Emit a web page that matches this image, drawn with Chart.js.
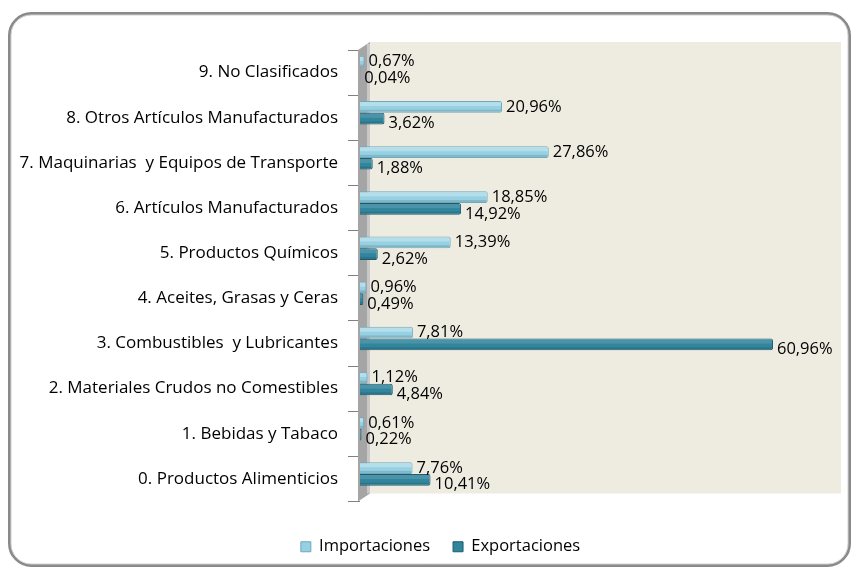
<!DOCTYPE html>
<html>
<head>
<meta charset="utf-8">
<script src="https://cdn.jsdelivr.net/npm/chart.js@4"></script>
<style>
  html, body { margin: 0; padding: 0; background: #fff; }
</style>
</head>
<body>
<canvas id="chart" width="855" height="568"></canvas>
<script>
// categorías de arriba hacia abajo
const categorias = [
    "9. No Clasificados",
    "8. Otros Artículos Manufacturados",
    "7. Maquinarias  y Equipos de Transporte",
    "6. Artículos Manufacturados",
    "5. Productos Químicos",
    "4. Aceites, Grasas y Ceras",
    "3. Combustibles  y Lubricantes",
    "2. Materiales Crudos no Comestibles",
    "1. Bebidas y Tabaco",
    "0. Productos Alimenticios"
];
const importaciones = [0.67, 20.96, 27.86, 18.85, 13.39, 0.96, 7.81, 1.12, 0.61, 7.76];
const exportaciones = [0.04, 3.62, 1.88, 14.92, 2.62, 0.49, 60.96, 4.84, 0.22, 10.41];

const FONT = "'Open Sans', sans-serif";
const FONDO_DY = 8;   // desplazamiento de la pared del fondo (efecto 3D)
const BARRA_DY = -5;

// marco redondeado, pared gris y etiquetas de valores
const decoraciones = {
    id: "decoraciones",
    afterLayout(chart) {
        // la leyenda va algo a la derecha del centro
        if (chart.legend) {
            chart.legend.left += 20;
            chart.legend.right += 20;
        }
    },
    beforeDraw(chart) {
        const { ctx, chartArea: a } = chart;
        ctx.save();
        // pared del fondo
        ctx.fillStyle = "#eeece1";
        ctx.fillRect(a.left + 10, a.top - FONDO_DY, a.right - a.left - 10, a.bottom - a.top);
        // marco
        const r = 22;
        const x0 = 9.5, y0 = 13.5, x1 = 849.5, y1 = 565.5;
        ctx.lineWidth = 3;
        ctx.strokeStyle = "#8a8a8a";
        ctx.beginPath();
        ctx.roundRect(x0, y0, x1 - x0, y1 - y0, r);
        ctx.stroke();
        ctx.lineWidth = 1;
        ctx.strokeStyle = "#d0d0d0";
        ctx.beginPath();
        ctx.roundRect(x0 + 1.5, y0 + 1.5, x1 - x0 - 3, y1 - y0 - 3, r - 2);
        ctx.stroke();
        ctx.restore();
    },
    beforeDatasetsDraw(chart) {
        const { ctx, chartArea: a } = chart;
        // pared izquierda
        ctx.save();
        ctx.fillStyle = "#a5a5a5";
        ctx.beginPath();
        ctx.moveTo(a.left - 2, a.top);
        ctx.lineTo(a.left + 10, a.top - FONDO_DY);
        ctx.lineTo(a.left + 10, a.bottom - FONDO_DY);
        ctx.lineTo(a.left - 2, a.bottom);
        ctx.closePath();
        ctx.fill();
        ctx.fillStyle = "#c8c8c8";
        ctx.fillRect(a.left + 7, a.top - FONDO_DY + 2, 3, a.bottom - a.top - 2);
        ctx.restore();
        ctx.save();
        ctx.translate(0, BARRA_DY);
    },
    afterDatasetsDraw(chart) {
        const { ctx } = chart;
        // brillo superior de cada barra
        chart.data.datasets.forEach((ds, i) => {
            chart.getDatasetMeta(i).data.forEach((bar) => {
                const h = bar.height;
                const w = bar.x - bar.base;
                if (w < 1) return;
                ctx.fillStyle = i === 0 ? "rgba(255,255,255,0.3)" : "rgba(255,255,255,0.12)";
                ctx.fillRect(bar.base, bar.y - h / 2 + 1, w - 1, h * 0.35);
                ctx.fillStyle = "rgba(0,0,0,0.12)";
                ctx.fillRect(bar.base, bar.y + h / 2 - 3, w - 1, 2);
            });
        });
        ctx.restore();

        ctx.save();
        ctx.font = "16.5px " + FONT;
        ctx.fillStyle = "#000";
        ctx.textAlign = "left";
        ctx.textBaseline = "middle";
        chart.data.datasets.forEach((ds, i) => {
            const meta = chart.getDatasetMeta(i);
            const dy = BARRA_DY + (i === 0 ? 0 : 5);
            meta.data.forEach((bar, j) => {
                const txt = ds.data[j].toFixed(2).replace(".", ",") + "%";
                ctx.fillText(txt, bar.x + 4, bar.y + dy);
            });
        });
        ctx.restore();
    }
};

const ctx = document.getElementById("chart").getContext("2d");
new Chart(ctx, {
    type: "bar",
    data: {
        labels: categorias,
        datasets: [
            {
                label: "Importaciones",
                data: importaciones,
                backgroundColor: "#95d0e3",
                borderColor: "#6fa9bd",
                borderWidth: 1,
                borderRadius: 2,
                borderSkipped: "left"
            },
            {
                label: "Exportaciones",
                data: exportaciones,
                backgroundColor: "#31859c",
                borderColor: "#1f5a6b",
                borderWidth: 1,
                borderRadius: 2,
                borderSkipped: "left"
            }
        ]
    },
    options: {
        indexAxis: "y",
        responsive: false,
        animation: false,
        layout: { padding: { top: 50, right: 14, bottom: 3, left: 0 } },
        datasets: {
            bar: { categoryPercentage: 0.52, barPercentage: 1 }
        },
        plugins: {
            legend: {
                position: "bottom",
                labels: {
                    font: { family: FONT, size: 16.5 },
                    color: "#000",
                    boxWidth: 10,
                    boxHeight: 10,
                    padding: 23
                }
            },
            tooltip: { enabled: false }
        },
        scales: {
            x: {
                min: 0,
                max: 71,
                afterFit(scale) { scale.height = 14; },
                border: { display: false },
                grid: { display: false },
                ticks: { display: false }
            },
            y: {
                afterFit(scale) { scale.width = 360; },
                border: { display: false },
                grid: {
                    offset: true,
                    drawOnChartArea: false,
                    tickLength: 12,
                    color: "#808080"
                },
                ticks: {
                    font: { family: FONT, size: 17 },
                    color: "#000",
                    padding: 10
                }
            }
        }
    },
    plugins: [decoraciones]
});
</script>
</body>
</html>
